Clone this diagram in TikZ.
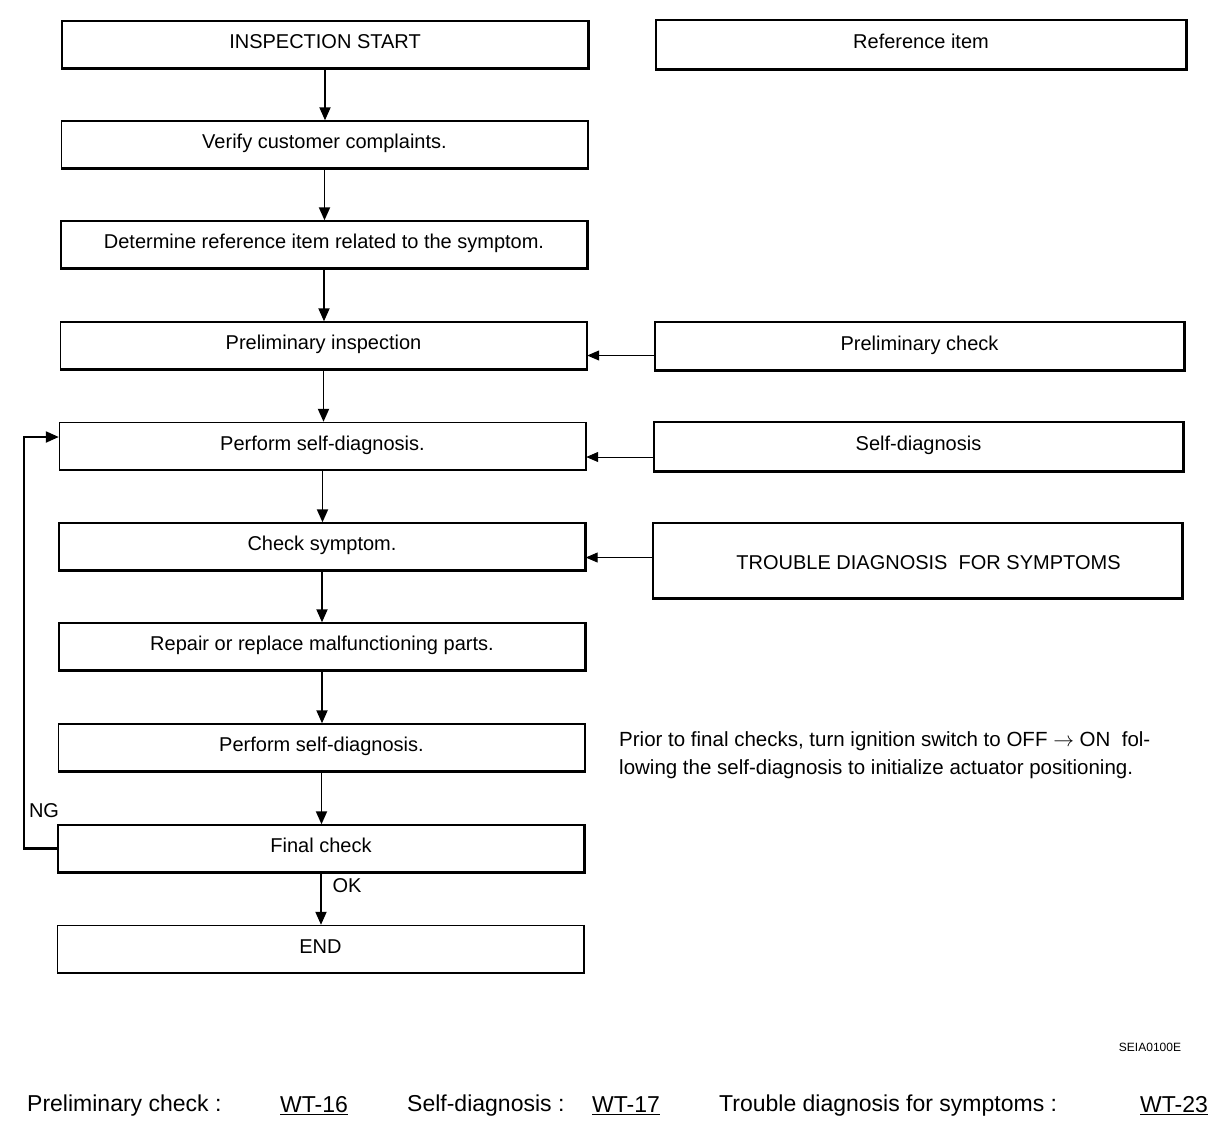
\documentclass[tikz,border=0pt]{standalone}
\usepackage{fontspec}
\setmainfont{Liberation Sans}
\usetikzlibrary{arrows.meta,calc}
\begin{document}
\begin{tikzpicture}[x=1pt,y=-1pt,
  box/.style={draw,line width=1.4pt,minimum width=526pt,minimum height=47pt,inner sep=0pt,text height=14pt,text depth=6pt,font=\fontsize{20}{24}\selectfont},
  rbox/.style={box,minimum width=529pt},
  arr/.style={line width=1.9pt,-{Triangle[length=13pt,width=11pt]}},
  harr/.style={line width=1pt,-{Triangle[length=12pt,width=10pt]}},
  lbl/.style={font=\fontsize{20}{24}\selectfont,inner sep=0pt},
  bot/.style={font=\fontsize{23}{27}\selectfont,inner sep=0pt,anchor=west}]
\useasboundingbox (0,0) rectangle (1216,1136);
\fill[white] (0,0) rectangle (1216,1136);
% left column
\node[box] (b1) at (325,44.5) {INSPECTION START};
\node[box] (b2) at (324.5,144.5) {Verify customer complaints.};
\node[box] (b3) at (324,244.5) {Determine reference item related to the symptom.};
\node[box] (b4) at (323.5,345.5) {Preliminary inspection};
\node[box] (b5) at (322.5,446) {Perform self-diagnosis.};
\node[box] (b6) at (322,546.5) {Check symptom.};
\node[box] (b7) at (322,646.5) {Repair or replace malfunctioning parts.};
\node[box] (b8) at (321.5,747.5) {Perform self-diagnosis.};
\node[box] (b9) at (321,848.5) {Final check};
\node[box] (b10) at (320.5,949) {END};
% right column
\node[rbox,minimum width=530pt,minimum height=49pt] (r0) at (921,44.5) {Reference item};
\node[rbox,minimum height=48pt] (r1) at (919.5,346) {Preliminary check};
\node[rbox,minimum height=49pt] (r2) at (918.5,446.5) {Self-diagnosis};
\node[rbox,minimum height=75pt,text height=17pt,text depth=0pt] (r3) at (917.5,560.5) {\hspace*{22pt}TROUBLE DIAGNOSIS\ \ FOR SYMPTOMS};
% heavier right and bottom edges
\foreach \n in {b1,b2,b3,b4,b5,b6,b7,b8,b9,b10,r0,r1,r2,r3}
  \draw[line width=2.4pt] (\n.north east) -- (\n.south east) -- (\n.south west);
% vertical flow
\foreach \a/\b in {b1/b2,b2/b3,b3/b4,b4/b5,b5/b6,b6/b7,b7/b8,b8/b9,b9/b10}
  \draw[arr] (\a.south) -- (\a.south |- \b.north);
% reference arrows
\coordinate (p4) at ([yshift=-10pt]b4.east);
\coordinate (p5) at ([yshift=-11pt]b5.east);
\coordinate (p6) at ([yshift=-11pt]b6.east);
\draw[harr] (p4 -| r1.west) -- (p4);
\draw[harr] (p5 -| r2.west) -- (p5);
\draw[harr] (p6 -| r3.west) -- (p6);
% NG loop
\coordinate (ng) at (24,848.5);
\coordinate (q5) at ([yshift=9pt]b5.west);
\draw[arr,line width=2.2pt] (b9.west) -- (ng) |- (q5);
\node[lbl] (ngl) at (44,811) {NG};
\node[lbl] (okl) at (347,886) {OK};
% note
\node[lbl,anchor=north west,align=left,font=\fontsize{20.5}{28}\selectfont] (note) at (619,731)
  {Prior to final checks, turn ignition switch to OFF $\rightarrow$ ON\ \ fol-\\lowing the self-diagnosis to initialize actuator positioning.};
\node[inner sep=0pt,font=\fontsize{12}{14}\selectfont] (code) at (1150,1047) {SEIA0100E};
% bottom references
\node[bot] (t1) at (27,1106) {Preliminary check :};
\node[bot] (t2) at (280,1106) {\underline{WT-16}};
\node[bot] (t3) at (407,1106) {Self-diagnosis :};
\node[bot] (t4) at (592,1106) {\underline{WT-17}};
\node[bot] (t5) at (719,1106) {Trouble diagnosis for symptoms :};
\node[bot] (t6) at (1140,1106) {\underline{WT-23}};
\end{tikzpicture}
\end{document}
